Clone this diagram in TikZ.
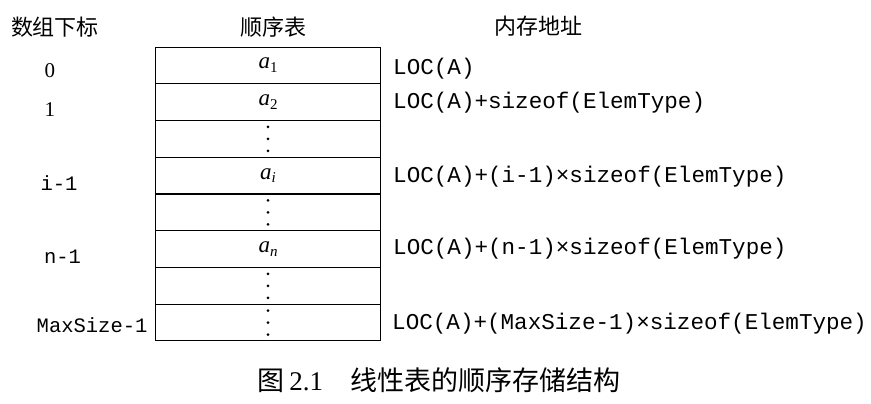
\documentclass[tikz,border=0pt]{standalone}
\usepackage{fontspec}
\setmainfont{Liberation Serif}
\setmonofont{Liberation Mono}
\newfontfamily\cjk{Noto Sans CJK SC}
\newcommand\elem[1]{\textit{a}\raisebox{-0.35ex}{\fontsize{15}{17}\selectfont #1}}

\begin{document}
\begin{tikzpicture}[x=1pt,y=-1pt]
\tikzstyle{cell}=[draw,line width=1pt,minimum width=225pt,minimum height=36.75pt,inner sep=0pt,font=\fontsize{23}{26}\selectfont];
\tikzstyle{head}=[font=\cjk\fontsize{22}{26}\selectfont];
\tikzstyle{idx}=[font=\fontsize{21}{24}\selectfont];
\tikzstyle{idxtt}=[font=\ttfamily\fontsize{20.5}{24}\selectfont];
\tikzstyle{addr}=[anchor=west,inner sep=0pt,font=\ttfamily\fontsize{22.6}{26}\selectfont];
\tikzstyle{vdot}=[circle,fill,inner sep=0pt,minimum size=3pt];
\useasboundingbox (0,0) rectangle (871,404);
% headers
\node[head](hidx) at (55,27) {数组下标};
\node[head](htab) at (273,27) {顺序表};
\node[head](hmem) at (538,26) {内存地址};
% table rows
\node[cell](r1) at (268,65.4) {\elem{1}};
\node[cell](r2) at (268,102.1) {\elem{2}};
\node[cell](r3) at (268,138.9) {};
\node[cell](r4) at (268,175.6) {\elem{\itshape i}};
\node[cell](r5) at (268,212.4) {};
\node[cell](r6) at (268,249.1) {\elem{\itshape n}};
\node[cell](r7) at (268,285.9) {};
\node[cell](r8) at (268,322.6) {};
% dots
\node[vdot] at ([yshift=-12pt]r3.center) {};
\node[vdot] at (r3.center) {};
\node[vdot] at ([yshift=12pt]r3.center) {};
\node[vdot] at ([yshift=-12pt]r5.center) {};
\node[vdot] at (r5.center) {};
\node[vdot] at ([yshift=12pt]r5.center) {};
\node[vdot] at ([yshift=-12pt]r7.center) {};
\node[vdot] at (r7.center) {};
\node[vdot] at ([yshift=12pt]r7.center) {};
\node[vdot] at ([yshift=-12pt]r8.center) {};
\node[vdot] at (r8.center) {};
\node[vdot] at ([yshift=12pt]r8.center) {};
% subscripts
\node[idx](i1) at (50,70.5) {0};
\node[idx](i2) at (50,110) {1};
\node[idxtt](i4) at (59,183) {i-1};
\node[idxtt](i6) at (62.5,257) {n-1};
\node[idxtt,anchor=east](i8) at (151,325) {MaxSize-1};
% addresses
\node[addr](d1) at (393,68.5) {LOC(A)};
\node[addr](d2) at (393,103) {LOC(A)+sizeof(ElemType)};
\node[addr](d4) at (393,176.5) {LOC(A)+(i-1)×sizeof(ElemType)};
\node[addr](d6) at (393,248.5) {LOC(A)+(n-1)×sizeof(ElemType)};
\node[addr](d8) at (392,323.5) {LOC(A)+(MaxSize-1)×sizeof(ElemType)};
% caption
\node[font=\fontsize{27}{30}\selectfont](cap) at (439,380) {{\cjk 图}\,2.1\hspace{1em}{\cjk 线性表的顺序存储结构}};
\end{tikzpicture}
\end{document}
